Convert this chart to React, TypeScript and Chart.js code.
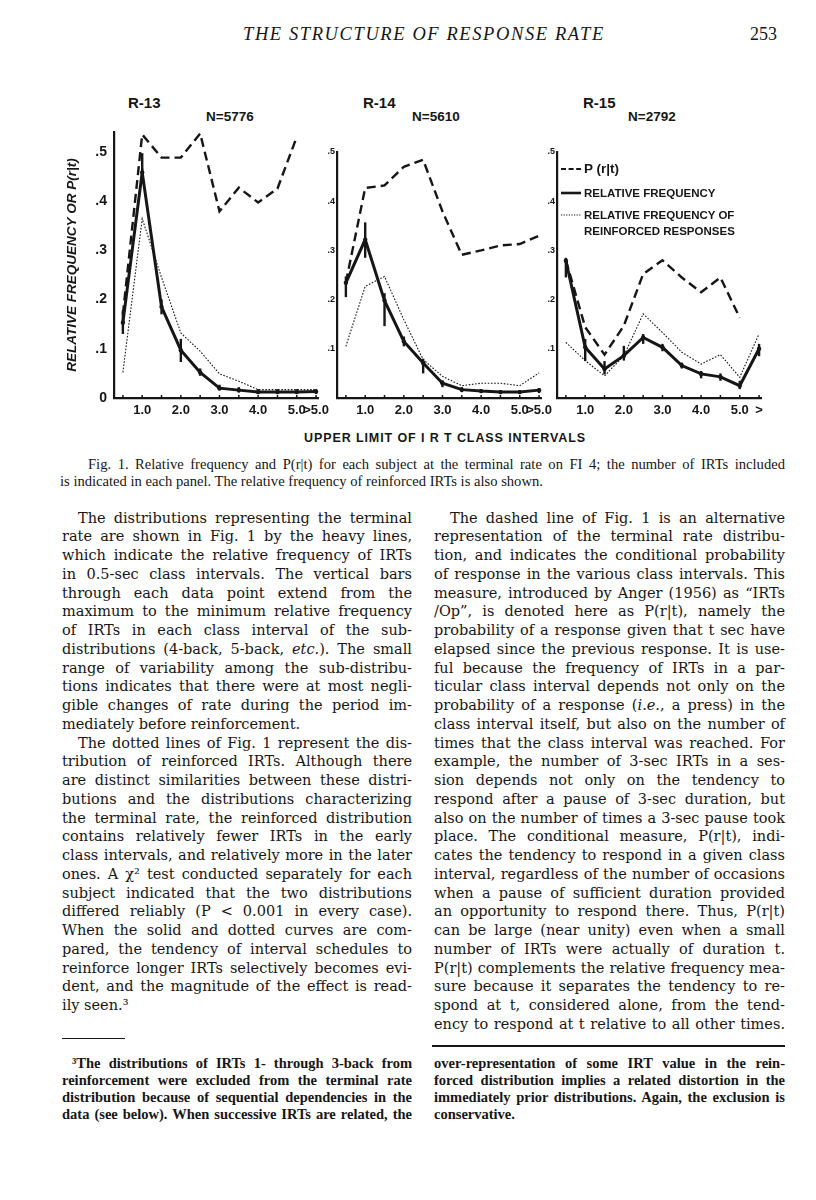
import React, { useEffect, useRef } from "react";
import { Chart, registerables } from "chart.js";

Chart.register(...registerables);

// ---------------- DATA ----------------
// class-interval upper limits (sec); 5.5 stands for ">5.0"
const intervals = [0.5, 1.0, 1.5, 2.0, 2.5, 3.0, 3.5, 4.0, 4.5, 5.0, 5.5];
const xTickValues = [1, 2, 3, 4, 5, 5.5];
const xTickLabelsA = ["1.0", "2.0", "3.0", "4.0", "5.0", ">5.0"];
const xTickLabelsB = ["1.0", "2.0", "3.0", "4.0", "5.0", ">"];
const yTickValues = [0, 0.1, 0.2, 0.3, 0.4, 0.5];
const yTickLabels = ["0", ".1", ".2", ".3", ".4", ".5"];

// R-13  (N = 5776)
const r13Prt = [0.17, 0.535, 0.488, 0.488, 0.537, 0.379, 0.427, 0.397, 0.425, 0.53, null];
const r13Rel = [0.153, 0.458, 0.185, 0.097, 0.052, 0.02, 0.016, 0.012, 0.012, 0.012, 0.013];
const r13RelMin = [0.13, 0.44, 0.17, 0.073, 0.045, 0.015, 0.011, 0.008, 0.008, 0.008, 0.008];
const r13RelMax = [0.178, 0.497, 0.2, 0.12, 0.06, 0.027, 0.022, 0.018, 0.018, 0.018, 0.018];
const r13Reinf = [0.052, 0.364, 0.245, 0.132, 0.095, 0.049, 0.034, 0.017, 0.017, 0.017, 0.017];

// R-14  (N = 5610)
const r14Prt = [0.235, 0.427, 0.432, 0.47, 0.484, 0.379, 0.291, 0.3, 0.31, 0.313, 0.33];
const r14Rel = [0.234, 0.322, 0.198, 0.115, 0.071, 0.03, 0.017, 0.014, 0.012, 0.012, 0.016];
const r14RelMin = [0.205, 0.285, 0.146, 0.105, 0.05, 0.022, 0.012, 0.01, 0.008, 0.008, 0.01];
const r14RelMax = [0.247, 0.357, 0.213, 0.125, 0.08, 0.036, 0.022, 0.018, 0.016, 0.016, 0.02];
const r14Reinf = [0.105, 0.227, 0.247, 0.159, 0.078, 0.044, 0.025, 0.03, 0.03, 0.025, 0.051];

// R-15  (N = 2792)
const r15Prt = [0.28, 0.144, 0.088, 0.147, 0.252, 0.28, 0.245, 0.215, 0.245, 0.163, null];
const r15Rel = [0.279, 0.103, 0.059, 0.086, 0.123, 0.103, 0.066, 0.049, 0.043, 0.025, 0.1];
const r15RelMin = [0.245, 0.075, 0.048, 0.076, 0.11, 0.095, 0.06, 0.04, 0.035, 0.018, 0.085];
const r15RelMax = [0.285, 0.12, 0.075, 0.106, 0.13, 0.11, 0.072, 0.055, 0.05, 0.035, 0.11];
const r15Reinf = [0.113, 0.076, 0.045, 0.086, 0.171, 0.133, 0.093, 0.069, 0.088, 0.042, 0.13];

const panelTitles = ["R-13", "R-14", "R-15"];
const panelCounts = ["N=5776", "N=5610", "N=2792"];
const seriesNames = ["P (r|t)", "RELATIVE FREQUENCY", "RELATIVE FREQUENCY OF", "REINFORCED RESPONSES"];
const yAxisTitle = "RELATIVE FREQUENCY OR P(r|t)";
const xAxisTitle = "UPPER LIMIT OF I R T CLASS INTERVALS";

// ---------------- TEXT ----------------
const headerTitle = "THE STRUCTURE OF RESPONSE RATE";
const pageNumber = "253";

const captionLines = [
  "Fig. 1. Relative frequency and P(r|t) for each subject at the terminal rate on FI 4; the number of IRTs included",
  "is indicated in each panel. The relative frequency of reinforced IRTs is also shown.",
];

const leftLines = [
  "The distributions representing the terminal",
  "rate are shown in Fig. 1 by the heavy lines,",
  "which indicate the relative frequency of IRTs",
  "in 0.5-sec class intervals. The vertical bars",
  "through each data point extend from the",
  "maximum to the minimum relative frequency",
  "of IRTs in each class interval of the sub-",
  "distributions (4-back, 5-back, _etc._). The small",
  "range of variability among the sub-distribu-",
  "tions indicates that there were at most negli-",
  "gible changes of rate during the period im-",
  "mediately before reinforcement.",
  "The dotted lines of Fig. 1 represent the dis-",
  "tribution of reinforced IRTs. Although there",
  "are distinct similarities between these distri-",
  "butions and the distributions characterizing",
  "the terminal rate, the reinforced distribution",
  "contains relatively fewer IRTs in the early",
  "class intervals, and relatively more in the later",
  "ones. A χ² test conducted separately for each",
  "subject indicated that the two distributions",
  "differed reliably (P < 0.001 in every case).",
  "When the solid and dotted curves are com-",
  "pared, the tendency of interval schedules to",
  "reinforce longer IRTs selectively becomes evi-",
  "dent, and the magnitude of the effect is read-",
  "ily seen.³",
];
const leftStarts = [0, 12];
const leftEnds = [11, 26];

const rightLines = [
  "The dashed line of Fig. 1 is an alternative",
  "representation of the terminal rate distribu-",
  "tion, and indicates the conditional probability",
  "of response in the various class intervals. This",
  "measure, introduced by Anger (1956) as “IRTs",
  "/Op”, is denoted here as P(r|t), namely the",
  "probability of a response given that t sec have",
  "elapsed since the previous response. It is use-",
  "ful because the frequency of IRTs in a par-",
  "ticular class interval depends not only on the",
  "probability of a response (_i.e._, a press) in the",
  "class interval itself, but also on the number of",
  "times that the class interval was reached. For",
  "example, the number of 3-sec IRTs in a ses-",
  "sion depends not only on the tendency to",
  "respond after a pause of 3-sec duration, but",
  "also on the number of times a 3-sec pause took",
  "place. The conditional measure, P(r|t), indi-",
  "cates the tendency to respond in a given class",
  "interval, regardless of the number of occasions",
  "when a pause of sufficient duration provided",
  "an opportunity to respond there. Thus, P(r|t)",
  "can be large (near unity) even when a small",
  "number of IRTs were actually of duration t.",
  "P(r|t) complements the relative frequency mea-",
  "sure because it separates the tendency to re-",
  "spond at t, considered alone, from the tend-",
  "ency to respond at t relative to all other times.",
];
const rightStarts = [0];
const rightEnds: number[] = [];

const footLeftLines = [
  "³The distributions of IRTs 1- through 3-back from",
  "reinforcement were excluded from the terminal rate",
  "distribution because of sequential dependencies in the",
  "data (see below). When successive IRTs are related, the",
];
const footRightLines = [
  "over-representation of some IRT value in the rein-",
  "forced distribution implies a related distortion in the",
  "immediately prior distributions. Again, the exclusion is",
  "conservative.",
];

// ---------------- STYLE ----------------
const INK = "#161616";
const SANS = "'Liberation Sans', Arial, sans-serif";
const SERIF = "'Liberation Serif', 'Times New Roman', serif";
const BODY_SERIF = "'DejaVu Serif', serif";

const marksPlugin = {
  id: "irtMarks",
  afterDatasetsDraw(chart: any) {
    const ctx = chart.ctx;
    const ys = chart.scales.y;
    const xs = chart.scales.x;
    ctx.save();
    // small tick marks on the abscissa at every class interval
    ctx.strokeStyle = INK;
    ctx.lineWidth = 1.5;
    ctx.setLineDash([]);
    intervals.forEach((v) => {
      const px = xs.getPixelForValue(v);
      ctx.beginPath();
      ctx.moveTo(px, ys.bottom);
      ctx.lineTo(px, ys.bottom - 3);
      ctx.stroke();
    });
    // range bars on the relative-frequency curve
    chart.data.datasets.forEach((ds: any, di: number) => {
      if (!ds.errMin) return;
      const meta = chart.getDatasetMeta(di);
      ctx.lineWidth = 2.4;
      meta.data.forEach((pt: any, i: number) => {
        const lo = ds.errMin[i];
        const hi = ds.errMax[i];
        if (lo == null || hi == null) return;
        ctx.beginPath();
        ctx.moveTo(pt.x, ys.getPixelForValue(lo));
        ctx.lineTo(pt.x, ys.getPixelForValue(hi));
        ctx.stroke();
      });
    });
    ctx.restore();
  },
};

type PanelProps = {
  left: number;
  top: number;
  width: number;
  height: number;
  yAxisWidth: number;
  padTop: number;
  padRight: number;
  yMax: number;
  yFont: number;
  yPad: number;
  showZero: boolean;
  showTitle: boolean;
  xLabels: string[];
  prt: (number | null)[];
  rel: number[];
  relMin: number[];
  relMax: number[];
  reinf: number[];
};

function Panel(p: PanelProps) {
  const ref = useRef<HTMLCanvasElement | null>(null);
  useEffect(() => {
    if (!ref.current) return;
    const toPts = (arr: (number | null)[]) => intervals.map((x, i) => ({ x, y: arr[i] }));
    const chart = new Chart(ref.current, {
      type: "line",
      data: {
        datasets: [
          {
            label: seriesNames[2],
            data: toPts(p.reinf),
            borderColor: INK,
            borderWidth: 1.1,
            borderDash: [1.6, 1.6],
            pointRadius: 0,
            fill: false,
            tension: 0,
            clip: false,
          } as any,
          {
            label: seriesNames[0],
            data: toPts(p.prt),
            borderColor: INK,
            borderWidth: 2.4,
            borderDash: [9, 5],
            pointRadius: 0,
            fill: false,
            tension: 0,
            spanGaps: false,
            clip: false,
          } as any,
          {
            label: seriesNames[1],
            data: toPts(p.rel),
            borderColor: INK,
            backgroundColor: INK,
            borderWidth: 3,
            pointRadius: 2.2,
            pointBackgroundColor: INK,
            pointBorderWidth: 0,
            fill: false,
            tension: 0,
            clip: false,
            errMin: p.relMin,
            errMax: p.relMax,
          } as any,
        ],
      },
      options: {
        responsive: false,
        animation: false,
        devicePixelRatio: 1,
        layout: { padding: { top: p.padTop, right: p.padRight, left: 0, bottom: 0 } },
        plugins: { legend: { display: false }, tooltip: { enabled: false } },
        scales: {
          x: {
            type: "linear",
            min: 0.27,
            max: 5.55,
            grid: { display: false, drawTicks: false },
            border: { display: true, color: INK, width: 2.2 },
            afterBuildTicks: (s: any) => {
              s.ticks = xTickValues.map((v) => ({ value: v }));
            },
            afterFit: (s: any) => {
              s.height = 22;
              s.paddingLeft = 0;
              s.paddingRight = 0;
            },
            ticks: {
              autoSkip: false,
              maxRotation: 0,
              padding: 5,
              color: INK,
              font: { family: SANS, size: 13, weight: "bold" },
              callback: (_v: any, i: number) => p.xLabels[i],
            },
          },
          y: {
            type: "linear",
            min: 0,
            max: p.yMax,
            grid: { display: false, drawTicks: false },
            border: { display: true, color: INK, width: 2.2 },
            afterBuildTicks: (s: any) => {
              s.ticks = yTickValues.filter((v) => v <= p.yMax + 1e-9).map((v) => ({ value: v }));
            },
            afterFit: (s: any) => {
              s.width = p.yAxisWidth;
              s.paddingTop = 0;
              s.paddingBottom = 0;
            },
            ticks: {
              padding: p.yPad,
              color: INK,
              font: { family: SANS, size: p.yFont, weight: "bold" },
              callback: (_v: any, i: number) => (i === 0 && !p.showZero ? "" : yTickLabels[i]),
            },
            title: {
              display: p.showTitle,
              text: yAxisTitle,
              color: INK,
              padding: { top: 14, bottom: 0 },
              font: { family: SANS, size: 13.5, weight: "bold", style: "italic" },
            },
          },
        },
      } as any,
      plugins: [marksPlugin],
    });
    return () => chart.destroy();
  }, []);
  return (
    <canvas
      ref={ref}
      width={p.width}
      height={p.height}
      style={{ position: "absolute", left: p.left, top: p.top, width: p.width, height: p.height }}
    />
  );
}

function Styled({ s }: { s: string }) {
  const parts = s.split("_");
  return (
    <>
      {parts.map((t, i) => (i % 2 ? <i key={i}>{t}</i> : <React.Fragment key={i}>{t}</React.Fragment>))}
    </>
  );
}

function Column(props: {
  lines: string[];
  starts: number[];
  ends: number[];
  left: number;
  top: number;
  width: number;
  lh: number;
  indent: number;
  style: React.CSSProperties;
}) {
  const { lines, starts, ends, left, top, width, lh, indent, style } = props;
  return (
    <div style={{ position: "absolute", left, top, width, color: INK, ...style }}>
      {lines.map((s, i) => (
        <div
          key={i}
          style={{
            height: lh,
            lineHeight: `${lh}px`,
            whiteSpace: "nowrap",
            textAlign: "justify",
            textAlignLast: ends.includes(i) ? "left" : "justify",
            textIndent: starts.includes(i) ? indent : 0,
          }}
        >
          <Styled s={s} />
        </div>
      ))}
    </div>
  );
}

function LegendLine({ kind, top }: { kind: "dash" | "solid" | "dot"; top: number }) {
  const dash = kind === "dash" ? "5 2.6" : kind === "dot" ? "1.2 1.4" : undefined;
  const w = kind === "solid" ? 2.6 : kind === "dash" ? 1.8 : 1.1;
  return (
    <svg style={{ position: "absolute", left: 561, top: top - 3 }} width={20} height={6}>
      <line x1={0} y1={3} x2={20} y2={3} stroke={INK} strokeWidth={w} strokeDasharray={dash} />
    </svg>
  );
}

export default function App() {
  const abs = (left: number, top: number, extra: React.CSSProperties = {}): React.CSSProperties => ({
    position: "absolute",
    left,
    top,
    whiteSpace: "nowrap",
    color: INK,
    ...extra,
  });
  const titleFont: React.CSSProperties = { fontFamily: SANS, fontWeight: "bold", fontSize: 15, lineHeight: "16px" };
  const countFont: React.CSSProperties = { fontFamily: SANS, fontWeight: "bold", fontSize: 13.5, lineHeight: "16px" };
  const legFont: React.CSSProperties = { fontFamily: SANS, fontWeight: "bold", fontSize: 11.5, lineHeight: "14px" };

  return (
    <div style={{ position: "absolute", left: 0, top: 0, width: 816, height: 1200, background: "#fff", overflow: "hidden" }}>
      {/* running head */}
      <div style={abs(243, 23, { fontFamily: SERIF, fontStyle: "italic", fontSize: 18.5, letterSpacing: 1.6, lineHeight: "22px" })}>
        {headerTitle}
      </div>
      <div style={abs(750, 23, { fontFamily: SERIF, fontSize: 18, lineHeight: "22px" })}>{pageNumber}</div>

      {/* panel titles */}
      <div style={abs(128, 95, titleFont)}>{panelTitles[0]}</div>
      <div style={abs(206, 109, countFont)}>{panelCounts[0]}</div>
      <div style={abs(363, 95, titleFont)}>{panelTitles[1]}</div>
      <div style={abs(412, 109, countFont)}>{panelCounts[1]}</div>
      <div style={abs(583, 95, titleFont)}>{panelTitles[2]}</div>
      <div style={abs(628, 109, countFont)}>{panelCounts[2]}</div>

      <Panel
        left={50} top={120} width={280} height={300}
        yAxisWidth={64} padTop={12} padRight={12}
        yMax={0.54} yFont={14} yPad={7} showZero={true} showTitle={true}
        xLabels={xTickLabelsA}
        prt={r13Prt} rel={r13Rel} relMin={r13RelMin} relMax={r13RelMax} reinf={r13Reinf}
      />
      <Panel
        left={300} top={120} width={255} height={300}
        yAxisWidth={37} padTop={32} padRight={14}
        yMax={0.5} yFont={9} yPad={2} showZero={false} showTitle={false}
        xLabels={xTickLabelsA}
        prt={r14Prt} rel={r14Rel} relMin={r14RelMin} relMax={r14RelMax} reinf={r14Reinf}
      />
      <Panel
        left={520} top={120} width={260} height={300}
        yAxisWidth={37} padTop={32} padRight={19}
        yMax={0.5} yFont={9} yPad={2} showZero={false} showTitle={false}
        xLabels={xTickLabelsB}
        prt={r15Prt} rel={r15Rel} relMin={r15RelMin} relMax={r15RelMax} reinf={r15Reinf}
      />

      {/* legend (panel R-15) */}
      <LegendLine kind="dash" top={169} />
      <div style={abs(584, 161, { ...legFont, fontSize: 13.5, lineHeight: "16px" })}>{seriesNames[0]}</div>
      <LegendLine kind="solid" top={193} />
      <div style={abs(584, 186, legFont)}>{seriesNames[1]}</div>
      <LegendLine kind="dot" top={215} />
      <div style={abs(584, 208, legFont)}>{seriesNames[2]}</div>
      <div style={abs(584, 224, legFont)}>{seriesNames[3]}</div>

      {/* shared abscissa title */}
      <div style={abs(245, 430, { width: 400, textAlign: "center", fontFamily: SANS, fontWeight: "bold", fontSize: 12.5, letterSpacing: 0.9, lineHeight: "16px" })}>
        {xAxisTitle}
      </div>

      {/* caption */}
      <Column
        lines={captionLines} starts={[0]} ends={[1]}
        left={60} top={455.5} width={725} lh={17} indent={28}
        style={{ fontFamily: SERIF, fontSize: 14.6 }}
      />

      {/* body text */}
      <Column
        lines={leftLines} starts={leftStarts} ends={leftEnds}
        left={62} top={508.6} width={350} lh={18.75} indent={16}
        style={{ fontFamily: BODY_SERIF, fontSize: 14.5 }}
      />
      <Column
        lines={rightLines} starts={rightStarts} ends={rightEnds}
        left={434} top={508.6} width={351} lh={18.75} indent={16}
        style={{ fontFamily: BODY_SERIF, fontSize: 14.5 }}
      />

      {/* footnote rules */}
      <div style={{ position: "absolute", left: 62, top: 1038, width: 63, height: 1.2, background: INK }} />
      <div style={{ position: "absolute", left: 432, top: 1045, width: 353, height: 1.5, background: INK }} />

      {/* footnotes */}
      <Column
        lines={footLeftLines} starts={[0]} ends={[]}
        left={62} top={1054.5} width={350} lh={17} indent={10}
        style={{ fontFamily: SERIF, fontSize: 14.5, fontWeight: "bold" }}
      />
      <Column
        lines={footRightLines} starts={[]} ends={[3]}
        left={434} top={1054.5} width={351} lh={17} indent={0}
        style={{ fontFamily: SERIF, fontSize: 14.5, fontWeight: "bold" }}
      />
    </div>
  );
}
